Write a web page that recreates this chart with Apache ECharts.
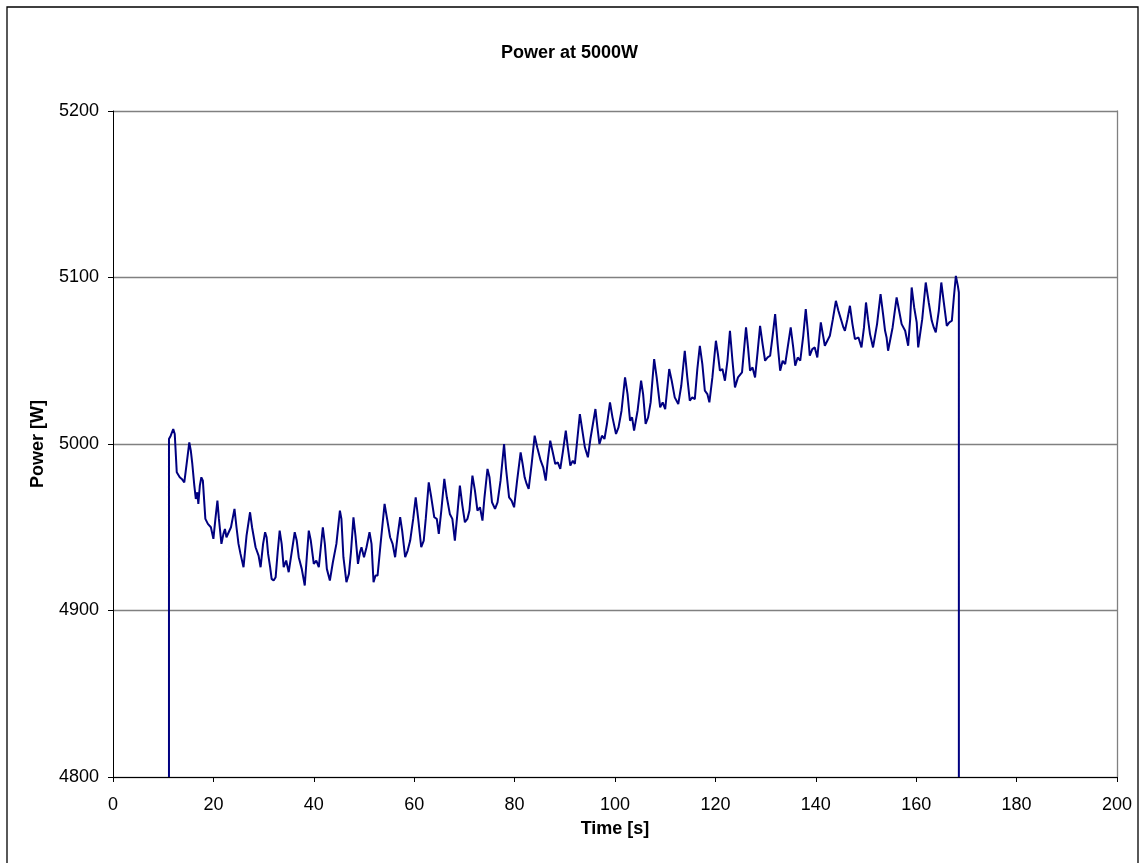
<!DOCTYPE html>
<html>
<head>
<meta charset="utf-8">
<title>Power at 5000W</title>
<script src="https://cdn.jsdelivr.net/npm/echarts@6/dist/echarts.min.js"></script>
<style>
  html, body { margin: 0; padding: 0; background: #fff; }
  #chart { width: 1139px; height: 863px; }
</style>
</head>
<body>
<div id="chart"></div>
<script>
// data: time [s] and power [W]
var timeS = [
  11.15, 11.15, 11.5, 12.0, 12.3, 12.7, 13.0, 13.3, 13.7, 14.2, 14.5, 15.2, 15.5, 15.8, 16.2, 16.5, 16.8, 17.0, 17.3, 17.6,
  17.9, 18.4, 18.9, 19.5, 20.0, 20.4, 20.8, 21.1, 21.6, 22.0, 22.3, 22.6, 22.9, 23.5, 24.2, 24.6, 25.0, 25.4, 26.0, 26.6,
  27.3, 27.7, 28.4, 29.0, 29.4, 29.9, 30.3, 30.6, 30.9, 31.3, 31.6, 32.0, 32.4, 32.8, 33.2, 33.6, 34.0, 34.5, 35.0, 35.6,
  36.2, 36.6, 37.0, 37.6, 38.2, 38.6, 39.0, 39.4, 40.0, 40.5, 41.0, 41.4, 41.8, 42.2, 42.6, 43.2, 43.8, 44.5, 45.2, 45.5,
  45.9, 46.5, 47.0, 47.4, 47.9, 48.3, 48.8, 49.2, 49.5, 50.0, 50.5, 51.1, 51.5, 51.9, 52.3, 52.7, 53.3, 54.1, 54.6, 55.2,
  55.7, 56.2, 56.7, 57.2, 57.6, 58.2, 58.7, 59.2, 59.8, 60.3, 60.8, 61.4, 61.9, 62.3, 62.9, 63.4, 64.0, 64.5, 64.9, 65.4,
  66.0, 66.5, 67.1, 67.6, 68.1, 68.6, 69.1, 69.6, 70.1, 70.6, 71.0, 71.6, 72.1, 72.6, 73.1, 73.6, 74.0, 74.6, 75.0, 75.5,
  76.1, 76.6, 77.2, 77.9, 78.3, 78.9, 79.4, 79.9, 80.5, 81.2, 81.6, 82.0, 82.4, 82.8, 83.4, 84.0, 84.5, 85.2, 85.7, 86.2,
  86.6, 87.1, 87.6, 88.1, 88.6, 89.1, 89.6, 90.2, 90.6, 91.1, 91.6, 92.0, 92.5, 93.0, 93.5, 94.0, 94.6, 95.1, 95.6, 96.1,
  96.5, 96.9, 97.4, 97.9, 98.4, 99.0, 99.5, 100.2, 100.7, 101.3, 102.0, 102.5, 103.0, 103.4, 103.8, 104.5, 105.2, 105.6, 106.1, 106.6,
  107.1, 107.8, 108.3, 109.0, 109.5, 110.0, 110.8, 111.3, 111.9, 112.6, 113.2, 113.9, 114.4, 114.9, 115.4, 115.9, 116.4, 116.9, 117.4, 117.9,
  118.4, 118.8, 119.4, 120.1, 120.5, 120.9, 121.4, 121.9, 122.4, 122.9, 123.4, 123.9, 124.5, 125.3, 126.1, 126.5, 126.9, 127.4, 127.9, 128.4,
  128.9, 129.4, 129.9, 130.4, 130.9, 131.4, 131.9, 132.4, 132.9, 133.4, 133.9, 134.4, 135.0, 135.5, 135.9, 136.4, 136.9, 137.5, 138.0, 138.4,
  138.8, 139.3, 139.8, 140.3, 141.0, 141.4, 141.8, 142.3, 142.8, 143.4, 144.0, 144.5, 145.1, 145.5, 145.8, 146.3, 146.8, 147.3, 147.8, 148.5,
  149.1, 149.6, 150.0, 150.4, 150.8, 151.1, 151.4, 152.2, 152.9, 153.4, 153.8, 154.1, 154.4, 155.3, 156.1, 156.6, 157.1, 157.8, 158.4, 158.8,
  159.1, 159.6, 160.1, 160.4, 161.2, 161.9, 162.5, 163.1, 163.5, 163.9, 164.5, 165.0, 165.5, 166.1, 166.6, 167.1, 167.5, 167.9, 168.3, 168.5,
  168.5
];
var powerW = [
  4800, 5003, 5005, 5009, 5006, 4983, 4982, 4980, 4979, 4977, 4984, 5001, 4996, 4988, 4975, 4967, 4971, 4964, 4975, 4980,
  4978, 4955, 4952, 4950, 4943, 4955, 4966, 4955, 4940, 4946, 4949, 4944, 4944, 4950, 4961, 4950, 4940, 4934, 4926, 4945,
  4959, 4950, 4938, 4933, 4926, 4940, 4947, 4944, 4934, 4926, 4919, 4918, 4920, 4935, 4948, 4940, 4926, 4930, 4923, 4935,
  4947, 4942, 4932, 4925, 4915, 4932, 4948, 4942, 4928, 4930, 4926, 4938, 4950, 4940, 4925, 4918, 4929, 4940, 4960, 4955,
  4932, 4917, 4922, 4935, 4956, 4945, 4928, 4935, 4938, 4932, 4938, 4947, 4940, 4917, 4921, 4921, 4940, 4964, 4955, 4944,
  4940, 4932, 4945, 4956, 4948, 4932, 4936, 4942, 4955, 4968, 4955, 4938, 4942, 4955, 4977, 4968, 4956, 4955, 4946, 4960,
  4979, 4968, 4958, 4955, 4942, 4958, 4975, 4963, 4953, 4955, 4960, 4981, 4972, 4960, 4962, 4954, 4968, 4985, 4980, 4965,
  4961, 4965, 4978, 5000, 4985, 4968, 4966, 4962, 4978, 4995, 4988, 4980, 4976, 4973, 4988, 5005, 4998, 4990, 4986, 4978,
  4990, 5002, 4995, 4988, 4989, 4985, 4995, 5008, 4998, 4987, 4990, 4988, 5003, 5018, 5008, 4998, 4992, 5003, 5012, 5021,
  5010, 5000, 5005, 5003, 5012, 5025, 5016, 5006, 5010, 5020, 5040, 5030, 5014, 5016, 5008, 5020, 5038, 5030, 5012, 5016,
  5025, 5051, 5040, 5022, 5025, 5021, 5045, 5038, 5028, 5024, 5035, 5056, 5040, 5026, 5028, 5027, 5045, 5059, 5048, 5032,
  5030, 5025, 5040, 5062, 5054, 5044, 5045, 5038, 5050, 5068, 5050, 5034, 5040, 5043, 5070, 5058, 5044, 5046, 5040, 5055,
  5071, 5060, 5050, 5052, 5053, 5065, 5078, 5060, 5044, 5050, 5048, 5058, 5070, 5058, 5047, 5052, 5050, 5065, 5081, 5068,
  5053, 5057, 5058, 5052, 5073, 5066, 5059, 5062, 5065, 5075, 5086, 5080, 5074, 5070, 5068, 5075, 5083, 5072, 5063, 5064,
  5058, 5070, 5085, 5075, 5066, 5062, 5058, 5072, 5090, 5078, 5068, 5064, 5056, 5070, 5088, 5080, 5072, 5068, 5059, 5075,
  5094, 5082, 5073, 5058, 5075, 5097, 5085, 5074, 5070, 5067, 5080, 5097, 5085, 5071, 5073, 5074, 5088, 5101, 5095, 5091,
  4800
];
var xTicks = { min: 0, max: 200, step: 20 };
var yTicks = { min: 4800, max: 5200, step: 100 };

var seriesData = timeS.map(function (t, i) { return [t, powerW[i]]; });

var chart = echarts.init(document.getElementById('chart'), null, { renderer: 'canvas' });

var font = 'Liberation Sans, Arial, sans-serif';

var option = {
  animation: false,
  backgroundColor: '#ffffff',
  title: {
    text: 'Power at 5000W',
    left: 'center',
    top: 39,
    textStyle: { fontFamily: font, fontSize: 18, fontWeight: 'bold', color: '#000' }
  },
  grid: { left: 113, right: 22, top: 111, bottom: 86 },
  graphic: [{
    type: 'rect',
    shape: { x: 7, y: 7, width: 1131, height: 880 },
    style: { fill: 'none', stroke: '#000', lineWidth: 1.3 },
    silent: true
  }],
  xAxis: {
    type: 'value',
    min: xTicks.min,
    max: xTicks.max,
    interval: xTicks.step,
    name: 'Time [s]',
    nameLocation: 'middle',
    nameGap: 43,
    nameTextStyle: { fontFamily: font, fontSize: 18, fontWeight: 'bold', color: '#000' },
    axisLine: { show: true, onZero: false, lineStyle: { color: '#000', width: 1 } },
    axisTick: { show: true, inside: false, length: 5, lineStyle: { color: '#000' } },
    axisLabel: { fontFamily: font, fontSize: 18, color: '#000', margin: 19 },
    splitLine: { show: false }
  },
  yAxis: [{
    type: 'value',
    min: yTicks.min,
    max: yTicks.max,
    interval: yTicks.step,
    name: 'Power [W]',
    nameLocation: 'middle',
    nameGap: 66,
    nameTextStyle: { fontFamily: font, fontSize: 18, fontWeight: 'bold', color: '#000' },
    axisLine: { show: true, lineStyle: { color: '#000', width: 1 } },
    axisTick: { show: true, inside: false, length: 5, lineStyle: { color: '#000' } },
    axisLabel: {
      fontFamily: font, fontSize: 18, color: '#000', margin: 14,
      formatter: function (v) { return String(v); }
    },
    splitLine: { show: true, lineStyle: { color: '#808080', width: 1.3 } }
  }, {
    // right edge of the plot area
    type: 'value',
    position: 'right',
    min: yTicks.min,
    max: yTicks.max,
    interval: yTicks.step,
    axisLine: { show: true, lineStyle: { color: '#808080', width: 1.3 } },
    axisTick: { show: false },
    axisLabel: { show: false },
    splitLine: { show: false }
  }],
  series: [{
    type: 'line',
    data: seriesData,
    showSymbol: false,
    symbol: 'none',
    lineStyle: { color: '#000080', width: 2 },
    itemStyle: { color: '#000080' }
  }]
};

chart.setOption(option);
</script>
</body>
</html>
